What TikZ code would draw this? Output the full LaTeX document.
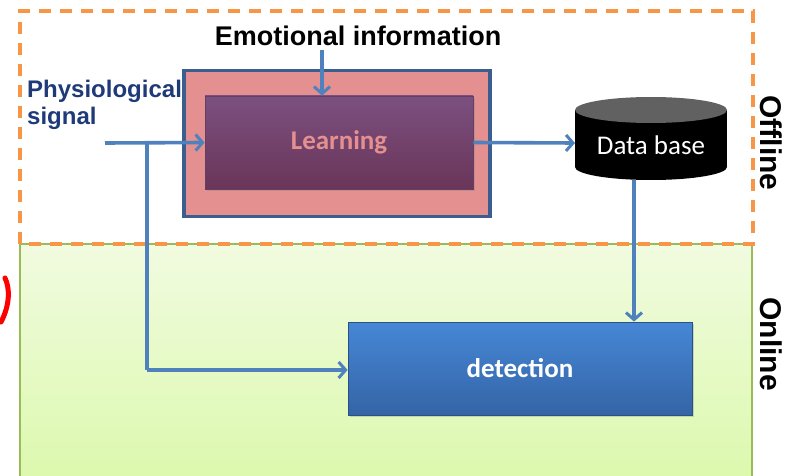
\documentclass[tikz,border=0pt]{standalone}
\usepackage{fontspec}
\setmainfont{Liberation Sans}
\newfontfamily\calib{Carlito}
\usetikzlibrary{arrows.meta,shapes.geometric,shadows}
\definecolor{lineblue}{HTML}{4F81BD}
\definecolor{dashorange}{HTML}{F79646}
\definecolor{pinkfill}{HTML}{E49090}
\definecolor{navyedge}{HTML}{3B5E8E}
\definecolor{purptop}{HTML}{7B5080}
\definecolor{purpbot}{HTML}{6A3558}
\definecolor{bluetop}{HTML}{4687D6}
\definecolor{bluebot}{HTML}{3464A6}
\definecolor{greentop}{HTML}{F1FBE0}
\definecolor{greenbot}{HTML}{DCF9AE}
\definecolor{greenedge}{HTML}{9BBB59}
\definecolor{physblue}{HTML}{1F3A78}
\tikzset{
  conn/.style={draw=lineblue, line width=3.6pt, -{Straight Barb[length=7pt,width=16pt,line width=3pt]}},
  connplain/.style={draw=lineblue, line width=3.6pt},
  sidelabel/.style={font=\bfseries\fontsize{30}{32}\selectfont, rotate=-90, inner sep=0pt},
}
\begin{document}
\begin{tikzpicture}[x=1pt,y=-1pt]
\useasboundingbox (0,0) rectangle (792,476);
% online region
\fill[top color=greentop, bottom color=greenbot] (20,244) rectangle (752,476);
\draw[greenedge, line width=1.4pt] (20,476) -- (20,244) -- (752,244) -- (752,476);
% offline dashed region
\draw[dashorange, line width=3.6pt, dash pattern=on 12pt off 9pt] (20,244) -- (20,11) -- (753,11) -- (753,244) -- cycle;
% red stroke fragment
\draw[red, line width=5pt, line cap=round] (1,322) .. controls (10,305) and (10,288) .. (5,278);
% boxes
\node[draw=navyedge, fill=pinkfill, line width=3.6pt, minimum width=306pt, minimum height=146pt, inner sep=0pt] (outer) at (337,143.5) {};
\node[top color=purptop, bottom color=purpbot, draw=purptop!80!black, line width=0.8pt, minimum width=268pt, minimum height=93pt, inner sep=0pt, drop shadow={shadow xshift=2pt, shadow yshift=-2pt, opacity=0.3}, text=pinkfill, font=\calib\bfseries\fontsize{27}{30}\selectfont] (learn) at (339,142.5) {Learning};
\node[top color=bluetop, bottom color=bluebot, draw=bluebot!80!black, line width=0.8pt, minimum width=344pt, minimum height=93pt, inner sep=0pt, drop shadow={shadow xshift=2pt, shadow yshift=-2pt, opacity=0.3}, text=white, font=\calib\bfseries\fontsize{27}{30}\selectfont] (det) at (520,368.5) {detection};
% database
\fill[black] (575,110) rectangle (727,167);
\fill[black] (651,167) ellipse [x radius=76pt, y radius=13pt];
\fill[black!62] (651,110) ellipse [x radius=76pt, y radius=13pt];
\node[text=white, font=\calib\fontsize{27}{30}\selectfont, inner sep=0pt] (db) at (651,145) {Data base};
\coordinate (dbwest) at (575,143);
\coordinate (dbbottom) at (634,180);
% texts
\node[font=\bfseries\fontsize{27}{30}\selectfont, inner sep=0pt] (emo) at (358,36) {Emotional information};
\node[font=\bfseries\fontsize{24}{27}\selectfont, text=physblue, align=left, anchor=north west, inner sep=0pt] (phys) at (27,80) {Physiological\\signal};
\node[sidelabel] (off) at (771,143) {Offline};
\node[sidelabel] (on) at (771,344) {Online};
% connectors
\coordinate (pstart) at (105,143);
\coordinate (branch) at (147,143);
\coordinate (corner) at (147,370);
\coordinate (emobot) at (322,50);
\draw[conn] (pstart) -- (learn.west);
\draw[connplain] (branch) -- (corner);
\draw[conn] (corner) -- (det.west |- corner);
\draw[conn] (emobot) -- (emobot |- learn.north);
\draw[conn] (learn.east) -- (dbwest);
\draw[conn] (dbbottom) -- (dbbottom |- det.north);
\end{tikzpicture}
\end{document}
